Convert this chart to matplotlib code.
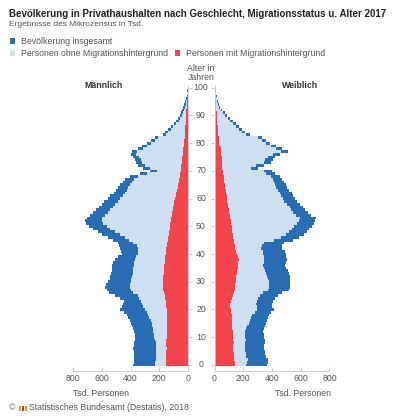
import matplotlib
matplotlib.use('Agg')
import matplotlib.pyplot as plt
from matplotlib.patches import Rectangle

plt.rcParams['font.family'] = ['Liberation Sans', 'DejaVu Sans']

AGES = list(range(101))

# Tsd. Personen, Alter 0..100
MALE_TOTAL = [380, 378, 376, 374, 376, 378, 380, 376, 375, 372,
              370, 372, 376, 380, 388, 398, 405, 415, 425, 448,
              472, 458, 450, 446, 472, 505, 548, 566, 578, 570,
              555, 546, 543, 536, 531, 531, 528, 520, 505, 485,
              462, 466, 473, 478, 490, 520, 560, 595, 625, 660,
              688, 712, 717, 705, 680, 659, 640, 622, 600, 585,
              560, 540, 518, 500, 490, 473, 455, 438, 404, 334,
              264, 311, 345, 362, 369, 380, 399, 392, 345, 318,
              288, 258, 230, 172, 158, 140, 120, 100, 82, 67,
              56, 48, 40, 33, 25, 19, 14, 10, 7, 5, 3]
MALE_OHNE = [230, 228, 226, 223, 222, 220, 220, 222, 226, 230,
             235, 238, 240, 242, 248, 253, 260, 268, 276, 288,
             300, 311, 318, 326, 340, 350, 385, 395, 402, 404,
             400, 394, 390, 386, 382, 380, 378, 374, 370, 362,
             348, 346, 350, 357, 380, 410, 440, 475, 508, 540,
             566, 590, 600, 598, 575, 555, 540, 522, 505, 490,
             470, 455, 435, 422, 415, 404, 392, 378, 350, 282,
             215, 262, 298, 318, 328, 340, 360, 356, 312, 288,
             260, 232, 206, 150, 137, 120, 102, 84, 66, 53,
             42, 36, 29, 23, 17, 12, 9, 6, 4, 3, 2]
MALE_MIT = [153, 152, 150, 150, 151, 150, 149, 150, 152, 150,
            148, 147, 146, 145, 144, 144, 143, 144, 144, 146,
            148, 151, 153, 156, 160, 163, 168, 172, 175, 176,
            174, 172, 172, 170, 168, 167, 165, 163, 160, 158,
            155, 153, 150, 147, 144, 140, 137, 134, 131, 128,
            125, 122, 119, 116, 113, 110, 106, 102, 98, 94,
            90, 86, 82, 78, 72, 67, 63, 60, 57, 54,
            51, 48, 46, 44, 42, 40, 38, 36, 33, 30,
            28, 26, 24, 22, 21, 20, 18, 17, 16, 15,
            14, 12, 11, 10, 8, 7, 5, 4, 3, 2, 1]

FEMALE_TOTAL = [364, 372, 370, 356, 352, 348, 342, 345, 350, 352,
                345, 341, 340, 342, 348, 358, 364, 370, 376, 395,
                411, 402, 399, 408, 422, 445, 469, 515, 524, 527,
                528, 527, 522, 515, 510, 500, 492, 498, 503, 500,
                494, 490, 469, 472, 482, 545, 590, 625, 643, 660,
                677, 690, 701, 703, 670, 650, 632, 619, 595, 573,
                560, 545, 538, 520, 503, 495, 482, 470, 457, 420,
                399, 306, 341, 395, 405, 420, 457, 508, 469, 430,
                387, 360, 329, 248, 215, 190, 170, 148, 128, 108,
                86, 70, 55, 39, 32, 25, 20, 16, 10, 7, 4]
FEMALE_OHNE = [220, 228, 230, 220, 216, 214, 211, 212, 215, 218,
               215, 214, 215, 220, 228, 240, 248, 255, 263, 280,
               298, 293, 290, 293, 300, 317, 334, 373, 380, 380,
               378, 375, 368, 360, 352, 345, 340, 343, 345, 343,
               340, 338, 323, 332, 346, 412, 460, 497, 518, 537,
               556, 572, 587, 593, 564, 547, 533, 523, 503, 484,
               474, 461, 457, 442, 428, 423, 413, 404, 394, 360,
               341, 256, 289, 341, 353, 370, 409, 462, 426, 392,
               355, 330, 301, 222, 191, 168, 149, 128, 110, 91,
               70, 56, 42, 28, 22, 17, 14, 11, 7, 5, 3]
FEMALE_MIT = [144, 142, 138, 135, 133, 132, 131, 132, 133, 132,
              132, 130, 128, 125, 122, 121, 120, 121, 121, 116,
              112, 109, 110, 115, 121, 128, 135, 140, 144, 146,
              148, 150, 153, 155, 158, 160, 163, 165, 167, 162,
              156, 152, 146, 140, 136, 133, 131, 128, 125, 123,
              121, 118, 114, 110, 106, 103, 99, 96, 92, 89,
              86, 84, 81, 78, 75, 72, 69, 66, 63, 60,
              58, 50, 52, 54, 52, 50, 48, 46, 43, 38,
              32, 30, 28, 26, 24, 22, 21, 20, 18, 17,
              16, 14, 13, 11, 10, 8, 6, 5, 3, 2, 1]

AGE_TICKS = [0, 10, 20, 30, 40, 50, 60, 70, 80, 90, 100]
X_TICKS = [0, 200, 400, 600, 800]

C_TOTAL = '#2a6db4'
C_OHNE = '#cddff0'
C_MIT = '#f4444e'
C_AXIS = '#c8c8c8'
C_TEXT = '#555555'

W, H = 403, 420
fig = plt.figure(figsize=(W / 100, H / 100), dpi=100)


def fx(px):
    return px / W


def fy(py):
    return 1 - py / H


ax_bottom = fy(371)
ax_height = fy(85) - ax_bottom
ax_m = fig.add_axes([fx(73), ax_bottom, fx(115), ax_height])
ax_f = fig.add_axes([fx(214.5), ax_bottom, fx(115), ax_height])

for ax, tot, ohne, mit in [(ax_m, MALE_TOTAL, MALE_OHNE, MALE_MIT),
                           (ax_f, FEMALE_TOTAL, FEMALE_OHNE, FEMALE_MIT)]:
    ax.barh(AGES, tot, height=1.0, color=C_TOTAL, linewidth=0)
    ax.barh(AGES, ohne, height=1.0, color=C_OHNE, linewidth=0)
    ax.barh(AGES, mit, height=1.0, color=C_MIT, linewidth=0)
    ax.set_ylim(-2.2, 101)
    ax.set_yticks(AGE_TICKS)
    ax.set_yticklabels([])
    ax.set_xticks(X_TICKS)
    ax.tick_params(axis='both', colors=C_AXIS, labelcolor=C_TEXT,
                   labelsize=6.3, length=3, width=0.6, pad=2)
    ax.tick_params(axis='x', direction='in')
    ax.spines['top'].set_visible(False)
    for s in ax.spines.values():
        s.set_color(C_AXIS)
        s.set_linewidth(0.6)
    ax.patch.set_alpha(0)

ax_m.set_xlim(800, 0)
ax_m.spines['left'].set_visible(False)
ax_m.yaxis.tick_right()
ax_f.set_xlim(0, 800)
ax_f.spines['right'].set_visible(False)
ax_f.yaxis.tick_left()
ax_m.tick_params(axis='y', direction='out')
ax_f.tick_params(axis='y', direction='out')

# Altersbeschriftung in der Mitte
for a in AGE_TICKS:
    yy = ax_m.transData.transform((0, a))[1]
    fig.text(fx(201), yy / H, str(a), ha='center', va='center',
             fontsize=6.3, color=C_TEXT)
fig.text(fx(201), fy(73), 'Alter in\nJahren', ha='center', va='center',
         fontsize=6.3, color=C_TEXT, linespacing=1.1)

fig.text(fx(103), fy(85), 'Männlich', ha='center', va='center',
         fontsize=6.3, fontweight='bold', color='#333333')
fig.text(fx(300), fy(85), 'Weiblich', ha='center', va='center',
         fontsize=6.3, fontweight='bold', color='#333333')

fig.text(fx(73), fy(394), 'Tsd. Personen', ha='left', va='center',
         fontsize=6.3, color=C_TEXT)
fig.text(fx(331), fy(394), 'Tsd. Personen', ha='right', va='center',
         fontsize=6.3, color=C_TEXT)

# Titel
fig.text(fx(9), fy(14), 'Bevölkerung in Privathaushalten nach Geschlecht, '
         'Migrationsstatus u. Alter 2017', ha='left', va='center',
         fontsize=7.05, fontweight='bold', color='#222222')
fig.text(fx(9), fy(25), 'Ergebnisse des Mikrozensus in Tsd.', ha='left',
         va='center', fontsize=6.0, color=C_TEXT)

# Legende
legend = [(12, 41, C_TOTAL, 'Bevölkerung insgesamt'),
          (12, 53, C_OHNE, 'Personen ohne Migrationshintergrund'),
          (177, 53, C_MIT, 'Personen mit Migrationshintergrund')]
for lx, ly, c, t in legend:
    fig.patches.append(Rectangle((fx(lx - 2.5), fy(ly + 2.5)), fx(5.5),
                                 5.5 / H, transform=fig.transFigure,
                                 color=c, lw=0))
    fig.text(fx(lx + 9), fy(ly), t, ha='left', va='center',
             fontsize=6.3, color=C_TEXT)

# Quelle
fig.text(fx(9), fy(408), '©', ha='left', va='center', fontsize=6.3,
         color=C_TEXT)
fig.patches.append(Rectangle((fx(19), fy(411)), fx(2), 5 / H,
                             transform=fig.transFigure, color='#d9a13b', lw=0))
fig.patches.append(Rectangle((fx(22), fy(411)), fx(2), 5 / H,
                             transform=fig.transFigure, color='#c0392b', lw=0))
fig.patches.append(Rectangle((fx(25), fy(411)), fx(2), 5 / H,
                             transform=fig.transFigure, color='#d9a13b', lw=0))
fig.text(fx(29), fy(408), 'Statistisches Bundesamt (Destatis), 2018',
         ha='left', va='center', fontsize=6.3, color=C_TEXT)

fig.savefig('out.png', dpi=100)
